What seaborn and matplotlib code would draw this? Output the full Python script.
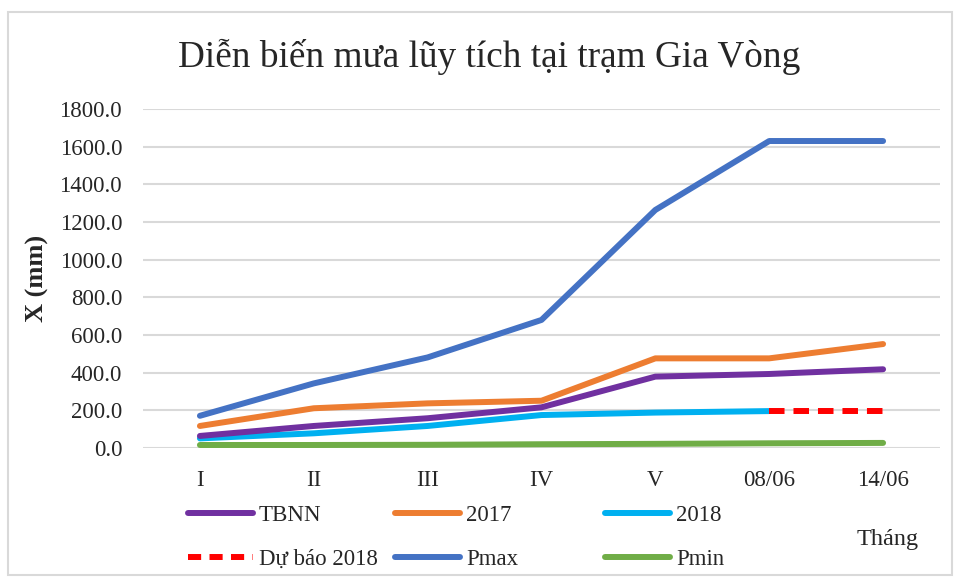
import numpy as np
import pandas as pd
import matplotlib.pyplot as plt
import seaborn as sns
from matplotlib.lines import Line2D
from matplotlib.patches import Rectangle

# === data ===
months = ["I", "II", "III", "IV", "V", "08/06", "14/06"]
tbnn = [64, 117, 158, 216, 379, 393, 418]
y2017 = [117, 211, 237, 251, 476, 476, 552]
y2018 = [51, 78, 117, 175, 188, 196]
forecast_months = ["08/06", "14/06"]
forecast_2018 = [196, 196]
pmax = [171, 343, 481, 680, 1264, 1630, 1630]
pmin = [16, 16, 17, 20, 22, 25, 27]
y_ticks = np.arange(0, 1801, 200)

series = {
    "TBNN": (months, tbnn),
    "2017": (months, y2017),
    "2018": (months[:len(y2018)], y2018),
    "Dự báo 2018": (forecast_months, forecast_2018),
    "Pmax": (months, pmax),
    "Pmin": (months, pmin),
}
colors = {"TBNN": "#7030A0", "2017": "#ED7D31", "2018": "#00B0F0",
          "Dự báo 2018": "#FF0000", "Pmax": "#4472C4", "Pmin": "#70AD47"}
draw_order = ["Pmin", "2018", "Dự báo 2018", "TBNN", "2017", "Pmax"]

rows = []
for name, (xs, vals) in series.items():
    for m, v in zip(xs, vals):
        rows.append({"series": name, "pos": months.index(m), "value": v})
df = pd.DataFrame(rows)

sns.set_style("white")
plt.rcParams["font.family"] = ["Liberation Serif", "DejaVu Serif"]

fig = plt.figure(figsize=(9.57, 5.83), dpi=100)
ax = fig.add_axes([143 / 957, 1 - 448 / 583, 797 / 957, 339 / 583])

LW = 4.3
for name in draw_order:
    sub = df[df["series"] == name]
    sns.lineplot(data=sub, x="pos", y="value", color=colors[name], lw=LW, ax=ax,
                 legend=False, estimator=None, sort=False)
    line = ax.lines[-1]
    line.set_solid_capstyle("round")
    if name == "Dự báo 2018":
        line.set_dashes((2.6, 1.5))
        line.set_dash_capstyle("butt")

ax.set_xlim(-0.5, len(months) - 0.5)
ax.set_ylim(0, 1800)
ax.set_xticks(range(len(months)))
ax.set_xticklabels(months)
ax.set_yticks(y_ticks)
ax.set_yticklabels([f"{v:.1f}" for v in y_ticks])
ax.tick_params(axis="y", length=0, pad=15, labelsize=16.5)
ax.tick_params(axis="x", length=0, pad=16, labelsize=16.5)
ax.yaxis.grid(True, color="#D9D9D9", lw=1.5)
ax.set_axisbelow(True)
for s in ax.spines.values():
    s.set_visible(False)
ax.set_xlabel("")
ax.set_ylabel("X (mm)", fontsize=19, fontweight="bold")
ax.yaxis.set_label_coords(-94 / 797, 0.5)

fig.text(489 / 957, 1 - 57 / 583, "Diễn biến mưa lũy tích tại trạm Gia Vòng",
         fontsize=26.8, ha="center", va="center")
fig.text(857 / 957, 1 - 540 / 583, "Tháng", fontsize=17.5, ha="left", va="center")

# legend, drawn as three columns like the original
columns = [["TBNN", "Dự báo 2018"], ["2017", "Pmax"], ["2018", "Pmin"]]
col_x = [188, 395, 605]
for names, x0 in zip(columns, col_x):
    handles = []
    for n in names:
        h = Line2D([], [], color=colors[n], lw=LW, solid_capstyle="round")
        if n == "Dự báo 2018":
            h.set_linestyle((0, (2.2, 1.4)))
        handles.append(h)
    fig.legend(handles, names, loc="upper left",
               bbox_to_anchor=(x0 / 957, 1 - 505 / 583), frameon=False,
               fontsize=16.5, handlelength=2.85, handletextpad=0.25,
               labelspacing=1.0, borderaxespad=0, borderpad=0)

fig.patches.append(Rectangle((8 / 957, 1 - 575 / 583), 944 / 957, 563 / 583,
                             transform=fig.transFigure, fill=False,
                             edgecolor="#D9D9D9", lw=1.5))

fig.savefig("out.png", dpi=100, facecolor="white")
